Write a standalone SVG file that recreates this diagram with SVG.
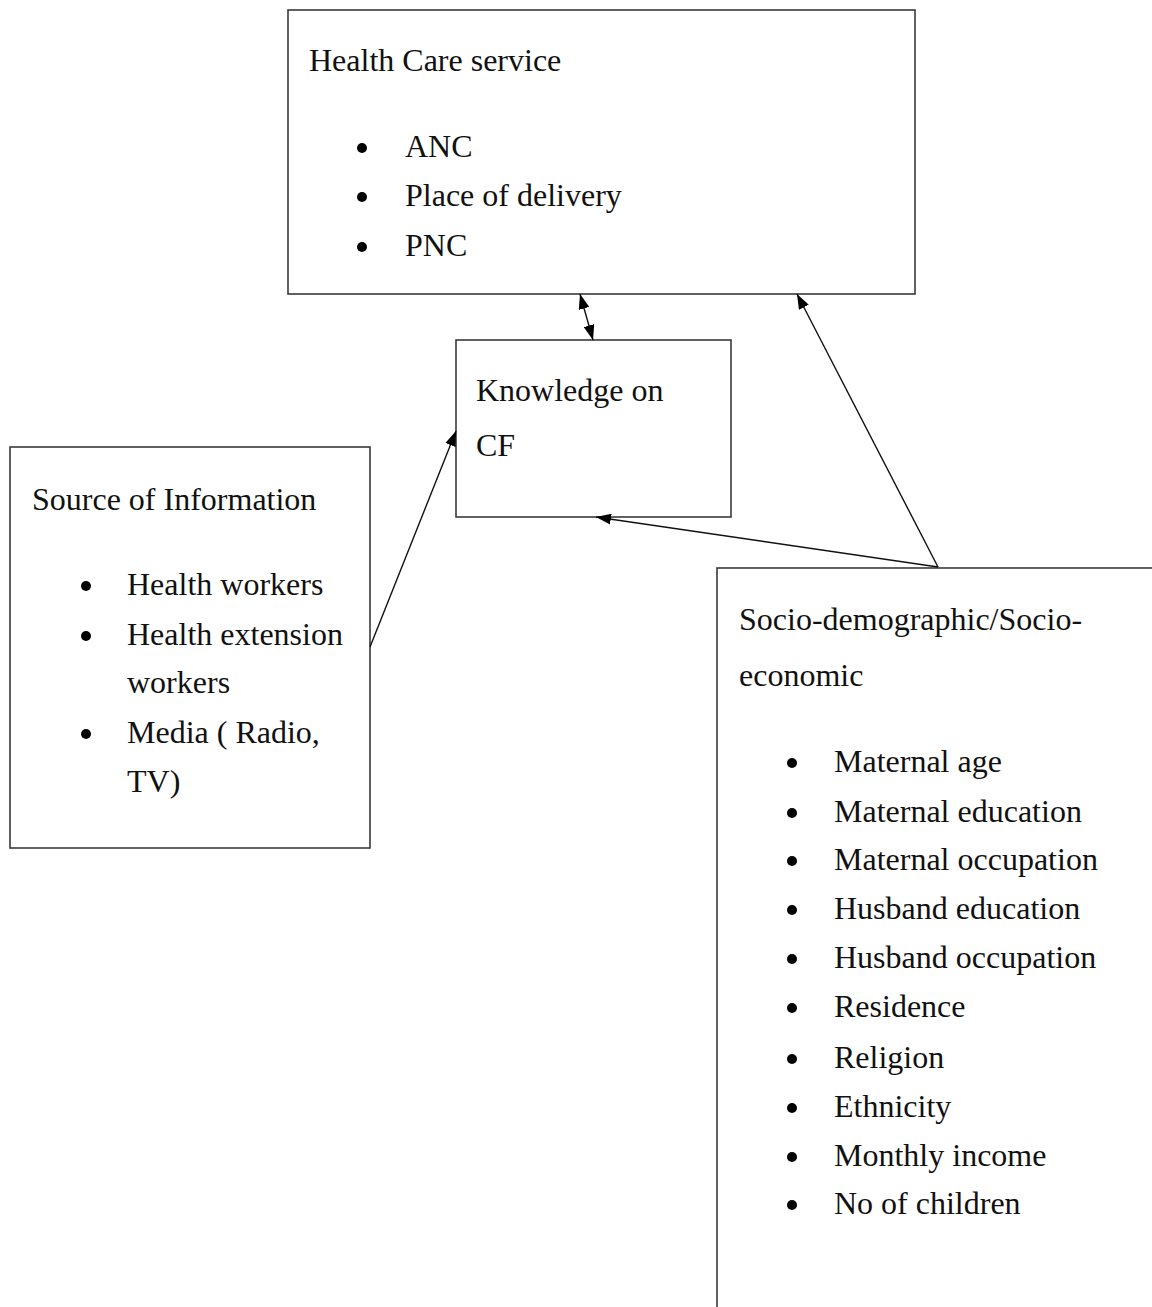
<svg xmlns="http://www.w3.org/2000/svg" width="1152" height="1307" viewBox="0 0 1152 1307">
<defs>
<style>
.box{fill:#fff;stroke:#3a3a3a;stroke-width:1.6}
.t{font-family:"Liberation Serif","Times New Roman",serif;font-size:32px;fill:#111}
.b{fill:#000}
.c{stroke:#111;stroke-width:1.4;fill:none}
</style>
<marker id="ah" viewBox="0 0 15 11" refX="15" refY="5.5" markerWidth="15" markerHeight="11" markerUnits="userSpaceOnUse" orient="auto-start-reverse">
<path d="M0,0 L15,5.5 L0,11 z" fill="#000"/>
</marker>
</defs>
<rect width="1152" height="1307" fill="#fff"/>

<g id="health-care">
<rect class="box" x="288" y="10" width="627" height="284"/>
<text class="t" x="309" y="71">Health Care service</text>
<circle class="b" cx="362" cy="148" r="5"/>
<text class="t" x="405" y="157">ANC</text>
<circle class="b" cx="362" cy="197" r="5"/>
<text class="t" x="405" y="206">Place of delivery</text>
<circle class="b" cx="362" cy="247" r="5"/>
<text class="t" x="405" y="256">PNC</text>
</g>

<g id="knowledge">
<rect class="box" x="456" y="340" width="275" height="177"/>
<text class="t" x="476" y="401">Knowledge on</text>
<text class="t" x="476" y="456">CF</text>
</g>

<g id="source">
<rect class="box" x="10" y="447" width="360" height="401"/>
<text class="t" x="32" y="510">Source of Information</text>
<circle class="b" cx="86" cy="586" r="5"/>
<text class="t" x="127" y="595">Health workers</text>
<circle class="b" cx="86" cy="636" r="5"/>
<text class="t" x="127" y="645">Health extension</text>
<text class="t" x="127" y="693">workers</text>
<circle class="b" cx="86" cy="734" r="5"/>
<text class="t" x="127" y="743">Media ( Radio,</text>
<text class="t" x="127" y="792">TV)</text>
</g>

<g id="socio">
<rect class="box" x="717" y="568" width="520" height="800"/>
<text class="t" x="739" y="630">Socio-demographic/Socio-</text>
<text class="t" x="739" y="686">economic</text>
<circle class="b" cx="792" cy="763" r="5"/>
<text class="t" x="834" y="772">Maternal age</text>
<circle class="b" cx="792" cy="813" r="5"/>
<text class="t" x="834" y="822">Maternal education</text>
<circle class="b" cx="792" cy="861" r="5"/>
<text class="t" x="834" y="870">Maternal occupation</text>
<circle class="b" cx="792" cy="910" r="5"/>
<text class="t" x="834" y="919">Husband education</text>
<circle class="b" cx="792" cy="959" r="5"/>
<text class="t" x="834" y="968">Husband occupation</text>
<circle class="b" cx="792" cy="1008" r="5"/>
<text class="t" x="834" y="1017">Residence</text>
<circle class="b" cx="792" cy="1059" r="5"/>
<text class="t" x="834" y="1068">Religion</text>
<circle class="b" cx="792" cy="1108" r="5"/>
<text class="t" x="834" y="1117">Ethnicity</text>
<circle class="b" cx="792" cy="1157" r="5"/>
<text class="t" x="834" y="1166">Monthly income</text>
<circle class="b" cx="792" cy="1205" r="5"/>
<text class="t" x="834" y="1214">No of children</text>
</g>

<g id="connectors">
<line class="c" x1="580" y1="294" x2="593" y2="340" marker-start="url(#ah)" marker-end="url(#ah)"/>
<line class="c" x1="370" y1="647" x2="456" y2="431" marker-end="url(#ah)"/>
<line class="c" x1="938" y1="567" x2="797" y2="294" marker-end="url(#ah)"/>
<line class="c" x1="938" y1="567" x2="596" y2="517" marker-end="url(#ah)"/>
</g>
</svg>
